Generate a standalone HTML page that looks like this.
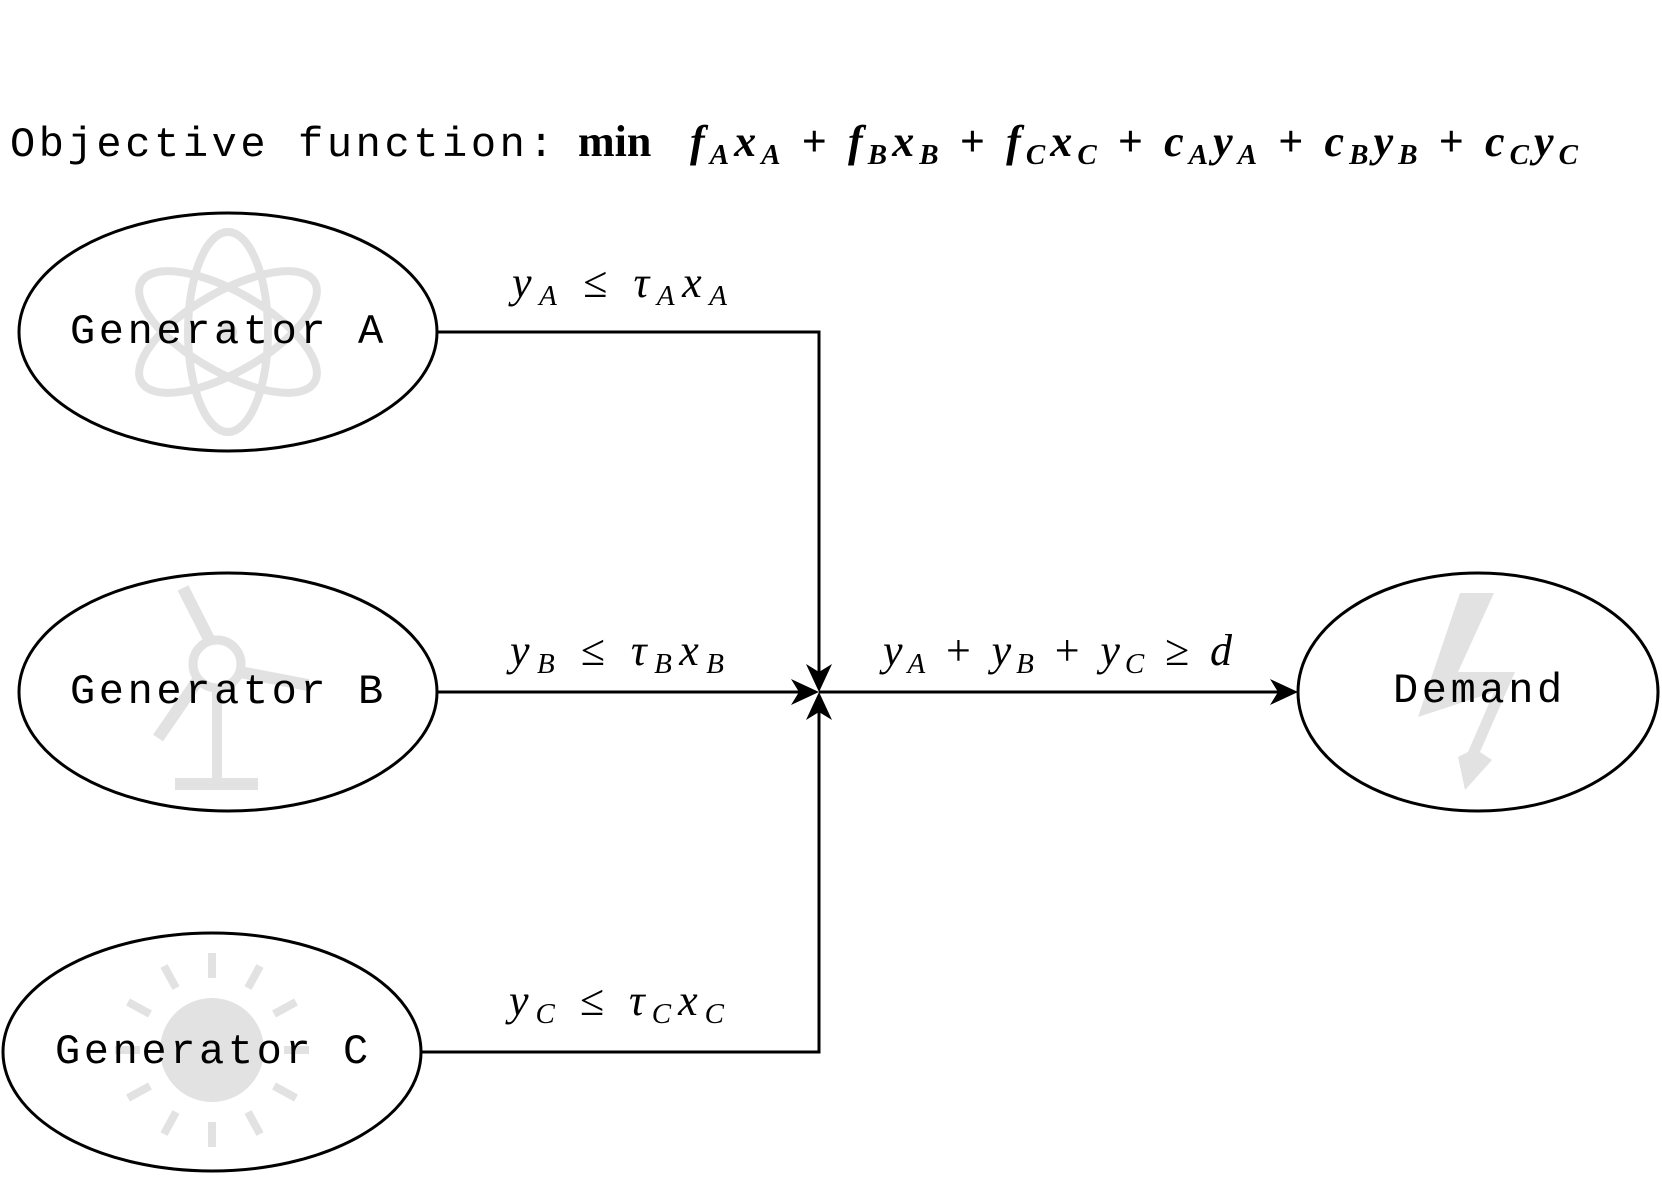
<!DOCTYPE html>
<html><head><meta charset="utf-8"><style>
html,body{margin:0;padding:0;background:#fff;}
svg{display:block}
.mono{font-family:"Liberation Mono",monospace;font-size:42px;letter-spacing:3.6px;fill:#000}
.m{font-family:"Liberation Serif",serif;font-style:italic;font-size:44px;fill:#000}
.s{font-size:29px}
</style></head><body>
<svg width="1662" height="1183" viewBox="0 0 1662 1183" xmlns="http://www.w3.org/2000/svg">
<g fill="none" stroke="#e2e2e2" stroke-width="8">
  <ellipse cx="228" cy="332" rx="100" ry="40" transform="rotate(90 228 332)"/>
  <ellipse cx="228" cy="332" rx="100" ry="40" transform="rotate(30 228 332)"/>
  <ellipse cx="228" cy="332" rx="100" ry="40" transform="rotate(-30 228 332)"/>
</g>
<circle cx="228" cy="332" r="9" fill="#e2e2e2"/>
<g stroke="#e2e2e2" fill="none">
  <circle cx="217" cy="664" r="24" stroke-width="9"/>
  <line x1="217" y1="688" x2="217" y2="782" stroke-width="10"/>
  <line x1="210" y1="641" x2="183" y2="588" stroke-width="12"/>
  <line x1="240" y1="672" x2="308" y2="685" stroke-width="12"/>
  <line x1="198" y1="680" x2="158" y2="738" stroke-width="12"/>
</g>
<rect x="175" y="778" width="83" height="12" fill="#e2e2e2"/>
<circle cx="212" cy="1050" r="52" fill="#e2e2e2"/>
<g stroke="#e2e2e2" stroke-width="8">
  <line x1="212" y1="978" x2="212" y2="953"/>
  <line x1="212" y1="1122" x2="212" y2="1147"/>
  <line x1="140" y1="1050" x2="115" y2="1050"/>
  <line x1="284" y1="1050" x2="309" y2="1050"/>
  <line x1="176" y1="988" x2="164" y2="966"/>
  <line x1="248" y1="988" x2="260" y2="966"/>
  <line x1="176" y1="1112" x2="164" y2="1134"/>
  <line x1="248" y1="1112" x2="260" y2="1134"/>
  <line x1="150" y1="1014" x2="128" y2="1002"/>
  <line x1="274" y1="1014" x2="296" y2="1002"/>
  <line x1="150" y1="1086" x2="128" y2="1098"/>
  <line x1="274" y1="1086" x2="296" y2="1098"/>
</g>
<polygon fill="#e2e2e2" points="1460,593 1494,593 1458,672 1515,672 1480,752 1492,760 1465,790 1458,757 1468,752 1494,692 1418,717"/>
<g fill="none" stroke="#000" stroke-width="3">
  <ellipse cx="228" cy="332" rx="209" ry="119"/>
  <ellipse cx="228" cy="692" rx="209" ry="119"/>
  <ellipse cx="212" cy="1052" rx="209" ry="119"/>
  <ellipse cx="1478" cy="692" rx="180" ry="119"/>
</g>
<g fill="none" stroke="#000" stroke-width="3">
  <polyline points="438,332 819,332 819,676"/>
  <line x1="438" y1="692" x2="804" y2="692"/>
  <polyline points="422,1052 819,1052 819,707"/>
  <line x1="819" y1="692" x2="1284" y2="692"/>
</g>
<g fill="#000">
  <polygon points="819,692 806,664 819,672 832,664"/>
  <polygon points="819,692 791,679 799,692 791,705"/>
  <polygon points="819,692 806,720 819,712 832,720"/>
  <polygon points="1298,692 1270,679 1278,692 1270,705"/>
</g>
<text class="mono" x="10" y="156">Objective function:</text>
<text x="578" y="156" font-family="Liberation Serif,serif" font-weight="bold" font-size="44">min</text>
<text class="m" x="690" y="156" font-weight="bold" textLength="888" lengthAdjust="spacing">f<tspan class="s" dy="8">A</tspan><tspan dy="-8">x</tspan><tspan class="s" dy="8">A</tspan><tspan dy="-8" font-style="normal"> + </tspan>f<tspan class="s" dy="8">B</tspan><tspan dy="-8">x</tspan><tspan class="s" dy="8">B</tspan><tspan dy="-8" font-style="normal"> + </tspan>f<tspan class="s" dy="8">C</tspan><tspan dy="-8">x</tspan><tspan class="s" dy="8">C</tspan><tspan dy="-8" font-style="normal"> + </tspan>c<tspan class="s" dy="8">A</tspan><tspan dy="-8">y</tspan><tspan class="s" dy="8">A</tspan><tspan dy="-8" font-style="normal"> + </tspan>c<tspan class="s" dy="8">B</tspan><tspan dy="-8">y</tspan><tspan class="s" dy="8">B</tspan><tspan dy="-8" font-style="normal"> + </tspan>c<tspan class="s" dy="8">C</tspan><tspan dy="-8">y</tspan><tspan class="s" dy="8">C</tspan></text>

<text class="mono" x="70" y="343">Generator A</text>
<text class="mono" x="70" y="703">Generator B</text>
<text class="mono" x="55" y="1063">Generator C</text>
<text class="mono" x="1393" y="702">Demand</text>

<text class="m" x="512" y="297" textLength="215" lengthAdjust="spacing">y<tspan class="s" dy="8">A</tspan><tspan dy="-8" font-style="normal"> ≤ </tspan>τ<tspan class="s" dy="8">A</tspan><tspan dy="-8">x</tspan><tspan class="s" dy="8">A</tspan></text>
<text class="m" x="510" y="665" textLength="214" lengthAdjust="spacing">y<tspan class="s" dy="8">B</tspan><tspan dy="-8" font-style="normal"> ≤ </tspan>τ<tspan class="s" dy="8">B</tspan><tspan dy="-8">x</tspan><tspan class="s" dy="8">B</tspan></text>
<text class="m" x="509" y="1015" textLength="215" lengthAdjust="spacing">y<tspan class="s" dy="8">C</tspan><tspan dy="-8" font-style="normal"> ≤ </tspan>τ<tspan class="s" dy="8">C</tspan><tspan dy="-8">x</tspan><tspan class="s" dy="8">C</tspan></text>
<text class="m" x="883" y="665" textLength="349" lengthAdjust="spacing">y<tspan class="s" dy="8">A</tspan><tspan dy="-8" font-style="normal"> + </tspan>y<tspan class="s" dy="8">B</tspan><tspan dy="-8" font-style="normal"> + </tspan>y<tspan class="s" dy="8">C</tspan><tspan dy="-8" font-style="normal"> ≥ </tspan>d</text>
</svg>
</body></html>
